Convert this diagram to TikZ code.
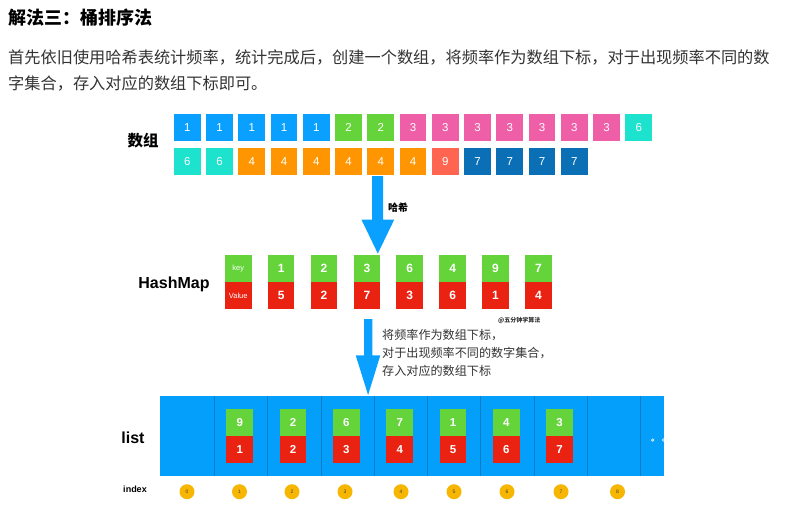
\documentclass[tikz,border=0pt]{standalone}
\usepackage{fontspec}
\setmainfont{Liberation Sans}
\newfontfamily\cjk{Noto Sans CJK SC}
\definecolor{cblue}{HTML}{0AA0FF}
\definecolor{cgreen}{HTML}{64D43A}
\definecolor{cpink}{HTML}{EE5FA7}
\definecolor{ccyan}{HTML}{1DE3CE}
\definecolor{corange}{HTML}{FF9500}
\definecolor{csalmon}{HTML}{FF6550}
\definecolor{cdark}{HTML}{0A6FB5}
\definecolor{cred}{HTML}{EA2212}
\definecolor{lblue}{HTML}{049EFB}
\definecolor{ldiv}{HTML}{0B7DC8}
\definecolor{cgold}{HTML}{F6B602}
\definecolor{txt}{HTML}{333333}
\tikzset{
  cellbox/.style={minimum width=26.7pt, minimum height=26.8pt, inner sep=0pt, text=white, font=\fontsize{11.5}{11.5}\selectfont},
  hmbox/.style={minimum width=26.6pt, minimum height=27pt, inner sep=0pt, text=white, font=\fontsize{12}{12}\selectfont\bfseries},
  idx/.style={circle, fill=cgold, minimum size=15pt, inner sep=0pt, text=black!75, font=\fontsize{5}{5}\selectfont},
  lbl/.style={font=\fontsize{16}{16}\selectfont\bfseries, inner sep=0pt},
  blockarrow/.style={fill=cblue, draw=none}
}
\begin{document}
\begin{tikzpicture}[x=1pt,y=-1pt]
\useasboundingbox[fill=white] (0,0) rectangle (799,507);
% title and paragraph
\node[anchor=west, inner sep=0pt, font=\cjk\bfseries\fontsize{18}{18}\selectfont] (title) at (8,18) {解法三：桶排序法};
\node[anchor=west, inner sep=0pt, text=txt, font=\cjk\fontsize{16.2}{16.2}\selectfont] (p1) at (8,57) {首先依旧使用哈希表统计频率，统计完成后，创建一个数组，将频率作为数组下标，对于出现频率不同的数};
\node[anchor=west, inner sep=0pt, text=txt, font=\cjk\fontsize{16.2}{16.2}\selectfont] (p2) at (8,83) {字集合，存入对应的数组下标即可。};
% array
\node[lbl, font=\cjk\bfseries\fontsize{15.5}{15.5}\selectfont] (arrlbl) at (143,141) {数组};
\foreach \v/\c [count=\i from 0] in {1/cblue,1/cblue,1/cblue,1/cblue,1/cblue,2/cgreen,2/cgreen,3/cpink,3/cpink,3/cpink,3/cpink,3/cpink,3/cpink,3/cpink,6/ccyan}
  \node[cellbox, fill=\c] (a\i) at ({187.35+32.24*\i},127.3) {\v};
\foreach \v/\c [count=\i from 0] in {6/ccyan,6/ccyan,4/corange,4/corange,4/corange,4/corange,4/corange,4/corange,9/csalmon,7/cdark,7/cdark,7/cdark,7/cdark}
  \node[cellbox, fill=\c] (b\i) at ({187.35+32.24*\i},161.7) {\v};
% arrow 1
\fill[blockarrow] (372.2,176) -- (383.2,176) -- (383.2,219.5) -- (394.3,219.5) -- (377.8,253.5) -- (361.4,219.5) -- (372.2,219.5) -- cycle;
\node[anchor=west, inner sep=0pt, font=\cjk\bfseries\fontsize{10}{10}\selectfont] (hx) at (388,208) {哈希};
% hashmap
\node[lbl] (hmlbl) at (174,284) {HashMap};
\node[hmbox, fill=cgreen, font=\fontsize{7.5}{7.5}\selectfont] (k0) at (238.25,268.8) {key};
\node[hmbox, fill=cred, font=\fontsize{7.5}{7.5}\selectfont] (v0) at (238.25,295.8) {Value};
\foreach \k/\v [count=\i from 1] in {1/5,2/2,3/7,6/3,4/6,9/1,7/4}{
  \node[hmbox, fill=cgreen] (k\i) at ({238.25+42.88*\i},268.8) {\k};
  \node[hmbox, fill=cred] (v\i) at ({238.25+42.88*\i},295.8) {\v};
}
\node[anchor=west, inner sep=0pt, text=black!80, font=\cjk\bfseries\fontsize{6}{6}\selectfont] (wm) at (498,320.8) {@五分钟学算法};
% arrow 2
\fill[blockarrow] (364,319) -- (372.3,319) -- (372.3,355.3) -- (380.3,355.3) -- (368.1,395) -- (355.7,355.3) -- (364,355.3) -- cycle;
\node[anchor=north west, inner sep=0pt, align=left, text=txt, font=\cjk\fontsize{12.1}{18}\selectfont] (note) at (382,329) {将频率作为数组下标，\\对于出现频率不同的数字集合，\\存入对应的数组下标};
% list
\node[lbl] (listlbl) at (133,438) {list};
\fill[lblue] (160,396) rectangle (664,476);
\foreach \k in {1,...,9}
  \draw[ldiv, line width=0.8pt] ({214.3+53.3*(\k-1)},396) -- ({214.3+53.3*(\k-1)},476);
\foreach \t/\b [count=\k from 1] in {9/1,2/2,6/3,7/4,1/5,4/6,3/7}{
  \node[cellbox, fill=cgreen, font=\fontsize{11.5}{11.5}\selectfont\bfseries] (lt\k) at ({214.3+53.3*(\k-1)+25.5},422.6) {\t};
  \node[cellbox, fill=cred, font=\fontsize{11.5}{11.5}\selectfont\bfseries] (lb\k) at ({214.3+53.3*(\k-1)+25.5},449.4) {\b};
}
\draw[white, line width=0.6pt] (652.7,440) circle (1.3);
\begin{scope}
\clip (640,396) rectangle (664,476);
\draw[white, line width=0.6pt] (663.5,440) circle (1.3);
\end{scope}
% index
\node[inner sep=0pt, font=\fontsize{9}{9}\selectfont\bfseries] (idxlbl) at (135,489) {index};
\foreach \x [count=\i from 0] in {187,239.5,292,345,401,454,507,561,617.5}
  \node[idx] (i\i) at (\x,491.7) {\i};
\end{tikzpicture}
\end{document}
